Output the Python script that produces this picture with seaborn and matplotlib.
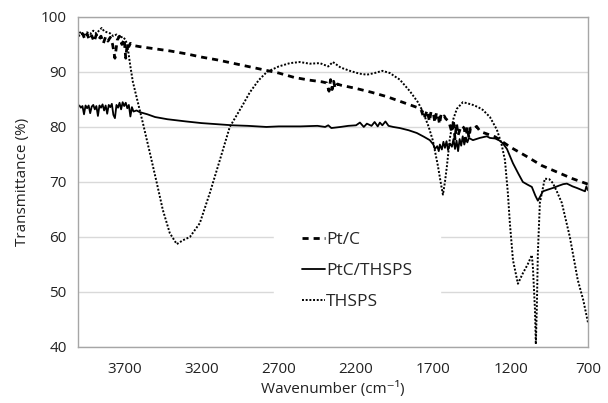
import seaborn as sns
import matplotlib.pyplot as plt
import pandas as pd

# Pt/C (dashed)
ptc_x = [4000, 3985, 3970, 3955, 3940, 3925, 3910, 3895, 3880, 3865, 3850, 3835,
         3820, 3805, 3790, 3775, 3760, 3745, 3730, 3715, 3700, 3690, 3680, 3670,
         3660, 3640, 3600, 3500, 3400, 3300, 3200, 3100, 3000, 2900, 2800, 2700,
         2600, 2500, 2420, 2390, 2375, 2365, 2355, 2345, 2335, 2320, 2300, 2200,
         2100, 2000, 1900, 1800, 1780, 1760, 1740, 1725, 1715, 1700, 1690, 1680,
         1670, 1660, 1650, 1640, 1630, 1620, 1600, 1580, 1570, 1560, 1550, 1540,
         1520, 1500, 1490, 1480, 1470, 1460, 1440, 1420, 1400, 1380, 1300, 1200,
         1100, 1000, 900, 800, 700]
ptc_y = [96.8, 96.2, 97.0, 96.0, 96.9, 95.8, 96.6, 95.5, 96.8, 95.9, 96.5, 95.2,
         96.4, 95.6, 96.3, 95.0, 92.5, 95.8, 96.5, 95.0, 96.0, 92.5, 95.2, 94.6,
         95.2, 94.8, 94.6, 94.2, 93.8, 93.3, 92.7, 92.2, 91.6, 91.0, 90.4, 89.8,
         89.0, 88.5, 88.2, 88.0, 86.5, 88.6, 86.8, 88.3, 87.0, 87.8, 87.6, 87.0,
         86.3, 85.5, 84.5, 83.5, 83.2, 81.5, 83.0, 81.0, 82.8, 82.5, 80.8, 82.6,
         82.2, 80.5, 82.3, 81.8, 82.0, 81.5, 81.0, 79.0, 81.2, 77.8, 80.6, 78.5,
         80.2, 79.8, 77.5, 80.0, 78.0, 79.8, 79.6, 80.1, 79.3, 79.0, 78.2, 76.3,
         74.7, 73.0, 71.8, 70.6, 69.6]

# PtC/THSPS (solid)
pts_x = [4000, 3990, 3980, 3970, 3960, 3950, 3940, 3930, 3920, 3910, 3900, 3890,
         3880, 3870, 3860, 3850, 3840, 3830, 3820, 3810, 3800, 3790, 3780, 3770,
         3760, 3750, 3740, 3730, 3720, 3710, 3700, 3690, 3680, 3670, 3660, 3650,
         3640, 3620, 3600, 3550, 3500, 3420, 3300, 3200, 3100, 3000, 2900, 2780,
         2700, 2560, 2450, 2400, 2380, 2360, 2300, 2250, 2200, 2175, 2150, 2130,
         2100, 2080, 2060, 2046, 2030, 2010, 1990, 1960, 1917, 1860, 1807, 1760,
         1723, 1700, 1690, 1675, 1665, 1658, 1645, 1635, 1625, 1615, 1605, 1593,
         1580, 1570, 1560, 1550, 1540, 1530, 1520, 1510, 1500, 1490, 1480, 1470,
         1444, 1400, 1354, 1334, 1300, 1270, 1250, 1224, 1185, 1150, 1121, 1090,
         1063, 1040, 1024, 1010, 991, 960, 927, 890, 860, 836, 800, 771, 745, 719,
         710, 700]
pts_y = [83.7, 83.9, 83.5, 83.8, 82.3, 83.9, 83.4, 83.9, 82.5, 83.7, 84.0, 83.2,
         83.8, 82.0, 83.9, 83.5, 84.1, 83.0, 83.9, 82.4, 84.0, 83.6, 84.2, 82.2,
         81.6, 84.0, 83.5, 84.4, 83.2, 84.5, 83.8, 84.4, 83.4, 84.0, 81.9, 83.6,
         82.8, 83.0, 82.7, 82.3, 81.8, 81.4, 81.0, 80.7, 80.5, 80.3, 80.2, 80.0,
         80.1, 80.1, 80.2, 80.0, 80.3, 79.8, 80.0, 80.2, 80.3, 80.8, 80.0, 80.6,
         80.2, 80.9, 80.1, 80.8, 80.3, 81.0, 80.2, 80.0, 79.8, 79.4, 78.9, 78.2,
         77.6, 76.8, 76.0, 76.5, 75.6, 76.8, 75.9, 77.3, 76.2, 77.4, 75.8, 77.0,
         76.4, 77.8, 76.0, 77.5, 75.6, 77.8, 76.6, 78.3, 76.8, 77.9, 77.2, 78.0,
         77.6, 78.0, 78.3, 78.0, 77.9, 77.5, 77.0, 76.0, 73.4, 71.5, 70.0, 69.5,
         69.1, 67.5, 66.6, 67.3, 68.3, 68.6, 68.9, 69.3, 69.6, 69.7, 69.2, 68.9,
         68.6, 68.3, 69.2, 68.5]

# THSPS (dotted)
ths_x = [4000, 3980, 3960, 3940, 3920, 3900, 3880, 3860, 3845, 3830, 3810, 3790,
         3770, 3750, 3730, 3710, 3690, 3677, 3660, 3644, 3612, 3579, 3534, 3489,
         3450, 3405, 3360, 3320, 3275, 3211, 3146, 3081, 3017, 2933, 2887, 2830,
         2777, 2700, 2628, 2564, 2500, 2434, 2380, 2350, 2300, 2240, 2180, 2130,
         2080, 2030, 1981, 1950, 1917, 1852, 1800, 1768, 1730, 1703, 1671, 1650,
         1638, 1625, 1613, 1593, 1570, 1548, 1509, 1480, 1444, 1410, 1380, 1334,
         1289, 1260, 1237, 1218, 1205, 1185, 1153, 1121, 1090, 1063, 1056, 1043,
         1037, 1030, 1024, 1011, 979, 950, 927, 900, 869, 817, 766, 730, 700]
ths_y = [96.8, 97.3, 96.6, 97.2, 96.9, 97.5, 97.0, 97.6, 98.0, 97.4, 97.2, 97.0,
         96.5, 96.8, 96.2, 96.4, 95.8, 94.4, 91.0, 88.2, 84.5, 80.7, 75.3, 69.8,
         64.9, 60.7, 58.7, 59.4, 60.0, 62.5, 68.0, 74.0, 80.0, 84.0, 86.3, 88.5,
         90.0, 91.0, 91.6, 91.8, 91.5, 91.6, 91.0, 91.8, 90.8, 90.2, 89.7, 89.5,
         89.8, 90.2, 89.8, 89.2, 88.6, 86.5, 84.5, 82.8, 80.0, 77.5, 73.0, 69.5,
         67.7, 70.0, 72.7, 78.0, 81.5, 83.3, 84.5, 84.3, 84.0, 83.6, 83.1, 81.8,
         79.5, 77.0, 74.0, 68.0, 62.5, 55.8, 51.5, 53.4, 55.0, 56.7, 54.5, 47.0,
         40.5, 48.0, 57.0, 66.2, 70.6, 70.5, 69.8, 68.2, 66.2, 60.0, 52.2, 48.5,
         44.5]

x_ticks = [3700, 3200, 2700, 2200, 1700, 1200, 700]
y_ticks = [40, 50, 60, 70, 80, 90, 100]


def main():
    sns.set_style("white")
    plt.rcParams['font.family'] = ['Open Sans', 'DejaVu Sans']

    fig, ax = plt.subplots(figsize=(6.08, 4.03), dpi=100)
    fig.subplots_adjust(left=0.128, right=0.967, bottom=0.139, top=0.958)

    ptc = pd.DataFrame({"x": ptc_x, "y": ptc_y})
    pts = pd.DataFrame({"x": pts_x, "y": pts_y})
    ths = pd.DataFrame({"x": ths_x, "y": ths_y})

    sns.lineplot(data=ptc, x="x", y="y", ax=ax, color="black", lw=2.0,
                 linestyle=(0, (2.2, 1.8)), label="Pt/C", estimator=None)
    sns.lineplot(data=pts, x="x", y="y", ax=ax, color="black", lw=1.3,
                 label="PtC/THSPS", estimator=None)
    sns.lineplot(data=ths, x="x", y="y", ax=ax, color="black", lw=1.4,
                 linestyle=(0, (1, 0.9)), label="THSPS", estimator=None)

    ax.set_xlim(4000, 700)
    ax.set_ylim(40, 100)
    ax.set_xticks(x_ticks)
    ax.set_yticks(y_ticks)
    ax.tick_params(axis="x", length=5, color="#a6a6a6", labelsize=11,
                   labelcolor="#222222", pad=6)
    ax.tick_params(axis="y", length=0, labelsize=11, labelcolor="#222222",
                   pad=8)

    ax.grid(axis="y", color="#d9d9d9", lw=1)
    for s in ax.spines.values():
        s.set_color("#a6a6a6")
        s.set_linewidth(1)

    ax.set_xlabel("Wavenumber (cm\u207b\u00b9)", fontsize=11,
                  color="#222222", labelpad=3)
    ax.set_ylabel("Transmittance (%)", fontsize=11, color="#222222",
                  labelpad=8)

    # white box without frame, hides the grid behind it
    leg = ax.legend(loc="center", bbox_to_anchor=(0.547, 0.23), fontsize=12.5,
                    frameon=True, facecolor="white", edgecolor="white",
                    framealpha=1, fancybox=False, handlelength=1.35,
                    handletextpad=0.05, labelspacing=0.85, borderpad=1.6,
                    borderaxespad=0)
    leg.set_zorder(5)

    fig.savefig("out.png", dpi=100)


if __name__ == "__main__":
    main()
